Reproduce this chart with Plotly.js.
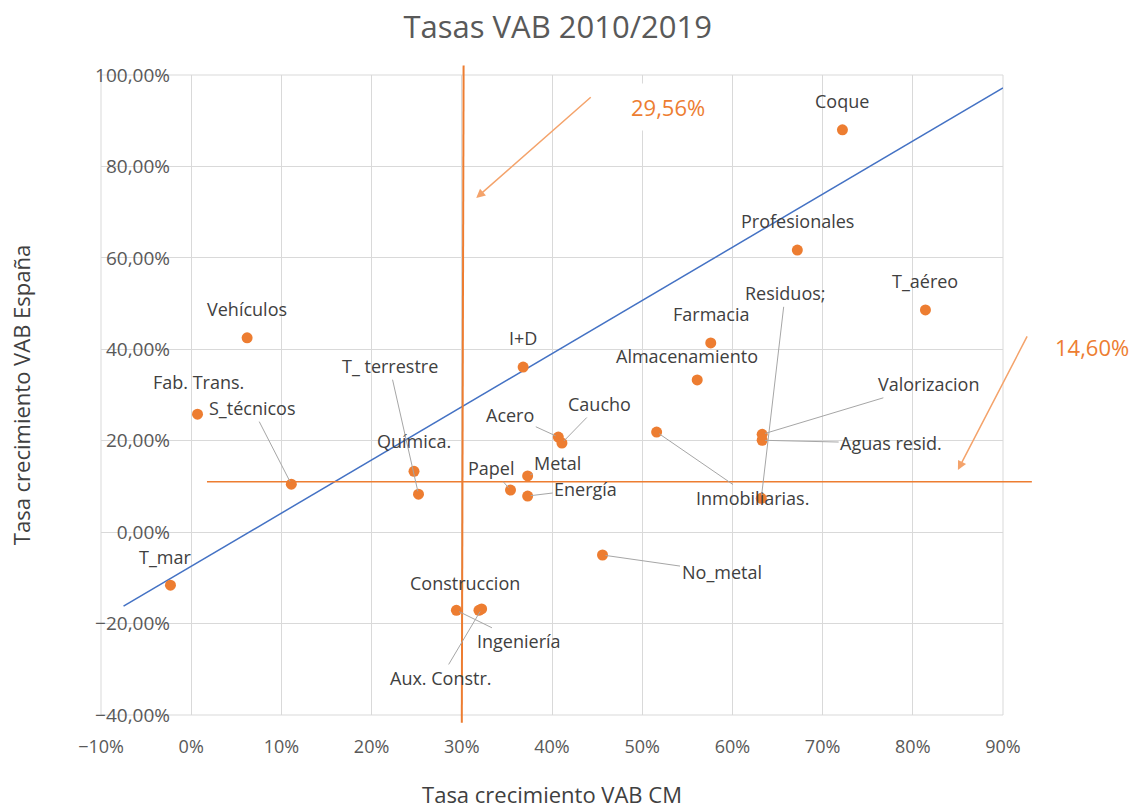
<!DOCTYPE html>
<html><head><meta charset="utf-8">
<script src="https://cdn.plot.ly/plotly-3.0.1.min.js"></script>
<style>html,body{margin:0;padding:0;background:#fff}#chart{width:1144px;height:809px}</style>
</head><body><div id="chart"></div>
<script>
// ---- data ----
const sectors = ['T_mar','Fab. Trans.','Vehículos','S_técnicos','Química.','T_ terrestre','Papel','Metal','Energía','Acero','Caucho','I+D','Construccion','Ingeniería','Aux. Constr.','No_metal','Inmobiliarias.','Aguas resid.','Valorizacion','Residuos;','Almacenamiento','Farmacia','Profesionales','Coque','T_aéreo'];
const tasaCM = [-0.023,0.007,0.062,0.111,0.247,0.252,0.354,0.373,0.373,0.407,0.411,0.368,0.319,0.294,0.322,0.456,0.516,0.633,0.633,0.632,0.561,0.576,0.672,0.722,0.814];
const tasaES = [-0.116,0.258,0.425,0.105,0.133,0.083,0.092,0.123,0.079,0.208,0.195,0.361,-0.171,-0.171,-0.168,-0.050,0.219,0.201,0.214,0.074,0.333,0.414,0.617,0.880,0.486];
const trendX = [-0.075, 0.90];
const trendY = [-0.162, 0.972];
const refCM = 0.301;   // vertical reference
const refES = 0.110;   // horizontal reference
const refCMText = '29,56%';
const refESText = '14,60%';
const xTickVals = [-0.1,0,0.1,0.2,0.3,0.4,0.5,0.6,0.7,0.8,0.9];
const yTickVals = [-0.4,-0.2,0,0.2,0.4,0.6,0.8,1.0];

// ---- label placement (pixel offsets from point), leader lines flag ----
const labelPos = {
  'T_mar':[-5,-28,false],'Fab. Trans.':[1,-32,false],'Vehículos':[0,-29,false],
  'S_técnicos':[-39,-76,true],'Química.':[0,-30,false],'T_ terrestre':[-29,-128,true],
  'Papel':[-19,-22,true],'Metal':[30,-13,true],'Energía':[58,-7,true],
  'Acero':[-48,-22,true],'Caucho':[38,-39,true],'I+D':[0,-29,false],
  'Construccion':[-14,-27,false],'Ingeniería':[63,31,true],'Aux. Constr.':[-41,69,true],
  'No_metal':[119,17,true],'Inmobiliarias.':[96,66,true],'Aguas resid.':[129,3,true],
  'Valorizacion':[166,-50,true],'Residuos;':[24,-205,true],'Almacenamiento':[-10,-24,false],
  'Farmacia':[0,-29,false],'Profesionales':[0,-29,false],'Coque':[0,-29,false],'T_aéreo':[0,-29,false]
};

const FONT = '"Open Sans", "Noto Sans", sans-serif';
const ORANGE = '#ED7D31';
const labelFont = {family: FONT, size: 18, color: '#404040'};

const annotations = sectors.map((s, i) => {
  const p = labelPos[s];
  if (p[2]) {
    return {x: tasaCM[i], y: tasaES[i], xref:'x', yref:'y', text: s, showarrow: true,
      ax: p[0], ay: p[1], arrowhead: 0, arrowwidth: 1, arrowcolor: '#a6a6a6', standoff: 3,
      font: labelFont};
  }
  return {x: tasaCM[i], y: tasaES[i], xref:'x', yref:'y', text: s, showarrow: false,
    xshift: p[0], yshift: -p[1], font: labelFont};
});

// orange arrows and texts
annotations.push({x: 0.316, y: 0.731, xref:'x', yref:'y', text:'', showarrow:true, ax:116, ay:-102,
  arrowhead:2, arrowsize:1.2, arrowwidth:1.5, arrowcolor:'#F4A36B'});
annotations.push({x: 0.529, y: 0.930, xref:'x', yref:'y', text: refCMText, showarrow:false,
  xanchor:'center', bgcolor:'#ffffff', borderpad: 8, font:{family: FONT, size: 22, color: ORANGE}});
annotations.push({x: 0.850, y: 0.136, xref:'x', yref:'y', text:'', showarrow:true, ax:70, ay:-135,
  arrowhead:2, arrowsize:1.2, arrowwidth:1.5, arrowcolor:'#F4A36B'});
annotations.push({x: 1.099, y: 0.575, xref:'paper', yref:'paper', text: refESText, showarrow:false,
  xanchor:'center', yanchor:'middle', font:{family: FONT, size: 22, color: ORANGE}});

const traces = [
  {x: trendX, y: trendY, type:'scatter', mode:'lines', line:{color:'#4472C4', width:1.5}, hoverinfo:'skip'},
  {x: tasaCM, y: tasaES, text: sectors, type:'scatter', mode:'markers',
   marker:{color: ORANGE, size: 11}, hovertemplate:'%{text}<extra></extra>'}
];

const layout = {
  width: 1144, height: 809,
  margin: {l: 101, r: 141, t: 75, b: 94},
  paper_bgcolor: '#ffffff', plot_bgcolor: '#ffffff',
  showlegend: false,
  separators: ',.',
  font: {family: FONT, color: '#595959', size: 18},
  title: {text: 'Tasas VAB 2010/2019', x: 0.4875, xanchor: 'center', y: 0.967, yanchor:'middle',
          font: {family: FONT, size: 31, color: '#595959'}},
  xaxis: {range: [-0.1, 0.9], tickvals: xTickVals, tickformat: '.0%', showgrid: true,
          gridcolor: '#d9d9d9', gridwidth: 1, zeroline: false, showline: false, ticks: '',
          ticklabelstandoff: 19,
          tickfont: {family: FONT, size: 18, color: '#595959'},
          title: {text: 'Tasa crecimiento VAB CM', standoff: 30, font:{family: FONT, size: 22, color:'#404040'}}},
  yaxis: {range: [-0.4, 1.0], tickvals: yTickVals, tickformat: '.2%', showgrid: true,
          gridcolor: '#d9d9d9', gridwidth: 1, zeroline: false, showline: false, ticks: '',
          anchor: 'free', position: 0.0998, ticklabelstandoff: 21,
          tickfont: {family: FONT, size: 19, color: '#595959'},
          title: {text: 'Tasa crecimiento VAB España', standoff: 57, font:{family: FONT, size: 22, color:'#404040'}}},
  shapes: [
    {type:'rect', xref:'paper', yref:'paper', x0:0, x1:1, y0:0, y1:1, line:{color:'#d9d9d9', width:1}, layer:'below'},
    {type:'line', xref:'x', yref:'paper', x0: refCM - 0.001, x1: refCM + 0.001, y0: -0.012, y1: 1.015,
     line:{color: ORANGE, width: 2}},
    {type:'line', xref:'paper', yref:'y', x0: 0.1175, x1: 1.032, y0: refES, y1: refES,
     line:{color: ORANGE, width: 1.5}}
  ],
  annotations: annotations
};

Plotly.newPlot('chart', traces, layout, {displayModeBar: false, staticPlot: true});
</script>
</body></html>
